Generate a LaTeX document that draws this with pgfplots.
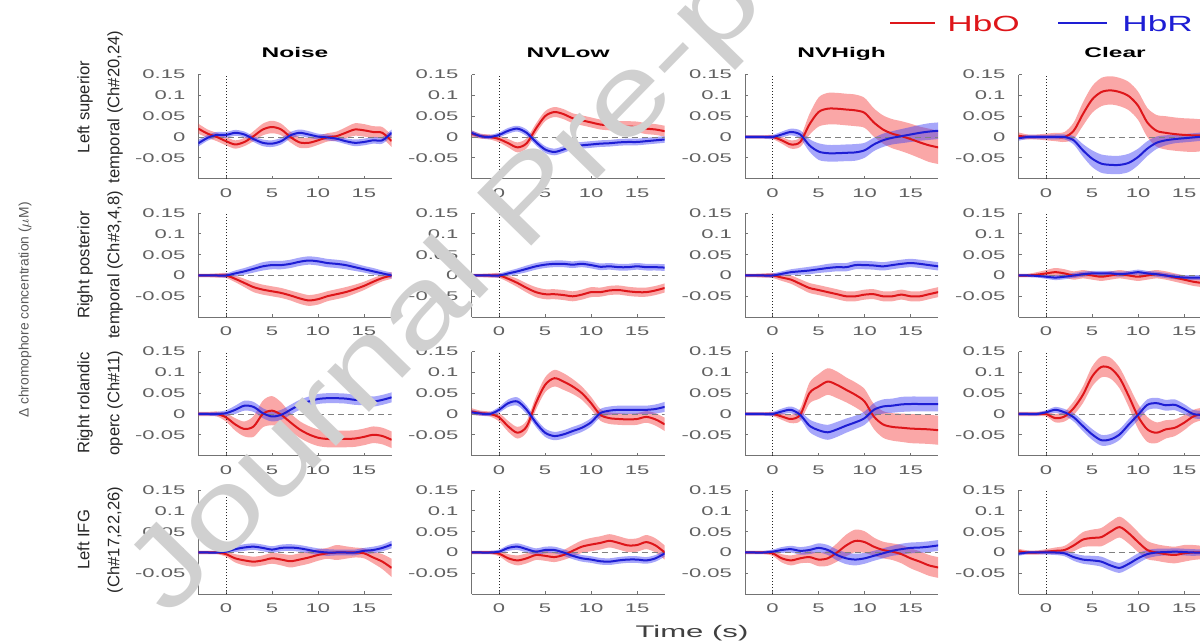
\documentclass[border=0pt]{standalone}
\usepackage{fontspec}
\setmainfont{Liberation Sans}
\newfontfamily\tickf[FakeStretch=1.75]{Liberation Sans}
\newfontfamily\legf[FakeStretch=1.6]{Liberation Sans}
\newfontfamily\timef[FakeStretch=1.85]{Liberation Sans}
\newfontfamily\wmf[FakeStretch=1.3]{Liberation Sans}
\usepackage{pgfplots}
\usepackage{pgfplotstable}
\usepgfplotslibrary{fillbetween}
\pgfplotsset{compat=1.18}

\definecolor{hbo}{RGB}{222,22,26}
\definecolor{hbr}{RGB}{30,30,212}
\definecolor{hbofill}{RGB}{245,60,60}
\definecolor{hbrfill}{RGB}{60,60,245}
\definecolor{wm}{RGB}{208,208,208}

% columns: t, HbO mean, HbO error, HbR mean, HbR error
% row 1: left superior temporal
\pgfplotstableread{
t o oe r re
-3 0.020 0.012 -0.015 0.008
-2 0.008 0.010 -0.002 0.007
-1 0.000 0.010 0.005 0.007
0 -0.010 0.010 0.005 0.007
1 -0.018 0.010 0.010 0.007
2 -0.012 0.010 0.006 0.007
3 0.002 0.012 -0.005 0.007
4 0.018 0.014 -0.014 0.008
5 0.024 0.015 -0.016 0.008
6 0.018 0.014 -0.010 0.008
7 0.000 0.013 0.004 0.008
8 -0.013 0.013 0.010 0.008
9 -0.014 0.012 0.006 0.008
10 -0.008 0.011 0.001 0.007
11 -0.001 0.010 -0.001 0.007
12 0.002 0.011 -0.004 0.007
13 0.010 0.013 -0.010 0.007
14 0.018 0.015 -0.014 0.008
15 0.016 0.015 -0.012 0.008
16 0.012 0.014 -0.008 0.008
17 0.010 0.014 -0.008 0.008
18 -0.010 0.014 0.010 0.008
}\tA
\pgfplotstableread{
t o oe r re
-3 0.008 0.008 0.010 0.006
-2 0.002 0.006 0.002 0.005
-1 0.000 0.006 0.000 0.005
0 -0.005 0.008 0.005 0.006
1 -0.015 0.010 0.015 0.007
2 -0.025 0.012 0.020 0.007
3 -0.015 0.012 0.010 0.008
4 0.020 0.012 -0.012 0.008
5 0.050 0.012 -0.030 0.008
6 0.060 0.012 -0.036 0.008
7 0.055 0.012 -0.030 0.008
8 0.045 0.012 -0.022 0.008
9 0.040 0.012 -0.020 0.008
10 0.035 0.012 -0.018 0.008
11 0.030 0.012 -0.016 0.008
12 0.028 0.012 -0.015 0.008
13 0.026 0.012 -0.013 0.008
14 0.025 0.013 -0.012 0.008
15 0.024 0.013 -0.012 0.008
16 0.020 0.013 -0.010 0.008
17 0.018 0.013 -0.008 0.008
18 0.014 0.013 -0.006 0.008
}\tB
\pgfplotstableread{
t o oe r re
-3 0.000 0.004 0.000 0.004
-2 0.000 0.004 0.000 0.004
-1 0.000 0.004 0.000 0.004
0 0.000 0.005 0.000 0.005
1 -0.008 0.008 0.006 0.007
2 -0.018 0.010 0.012 0.008
3 -0.012 0.012 0.006 0.010
4 0.030 0.025 -0.020 0.015
5 0.060 0.035 -0.035 0.020
6 0.068 0.038 -0.039 0.020
7 0.068 0.038 -0.039 0.020
8 0.066 0.038 -0.038 0.020
9 0.064 0.038 -0.037 0.020
10 0.058 0.036 -0.032 0.018
11 0.035 0.034 -0.018 0.016
12 0.018 0.034 -0.008 0.016
13 0.008 0.035 -0.002 0.016
14 0.002 0.036 0.002 0.017
15 -0.005 0.037 0.006 0.018
16 -0.013 0.038 0.010 0.019
17 -0.020 0.040 0.013 0.020
18 -0.025 0.040 0.015 0.020
}\tC
\pgfplotstableread{
t o oe r re
-3 0.003 0.008 -0.003 0.006
-2 0.000 0.006 0.000 0.005
-1 0.000 0.006 0.000 0.005
0 0.000 0.008 0.000 0.005
1 0.000 0.010 0.000 0.006
2 0.000 0.012 0.000 0.006
3 0.015 0.020 -0.008 0.010
4 0.055 0.028 -0.032 0.015
5 0.090 0.032 -0.052 0.020
6 0.108 0.034 -0.064 0.022
7 0.112 0.034 -0.067 0.022
8 0.108 0.034 -0.067 0.022
9 0.098 0.034 -0.062 0.022
10 0.075 0.034 -0.048 0.020
11 0.035 0.035 -0.028 0.018
12 0.015 0.038 -0.014 0.015
13 0.010 0.040 -0.008 0.012
14 0.007 0.040 -0.005 0.010
15 0.005 0.040 -0.003 0.010
16 0.004 0.040 -0.001 0.010
17 0.004 0.038 0.001 0.010
18 0.003 0.035 0.002 0.010
}\tD
% row 2: right posterior temporal
\pgfplotstableread{
t o oe r re
-3 0.000 0.004 0.000 0.004
-2 0.000 0.004 0.000 0.004
-1 0.000 0.005 0.000 0.004
0 0.000 0.006 0.000 0.005
1 -0.008 0.008 0.005 0.007
2 -0.018 0.010 0.010 0.008
3 -0.028 0.012 0.016 0.009
4 -0.034 0.012 0.022 0.010
5 -0.038 0.012 0.025 0.010
6 -0.042 0.012 0.025 0.010
7 -0.048 0.012 0.028 0.010
8 -0.055 0.013 0.033 0.010
9 -0.060 0.013 0.036 0.010
10 -0.057 0.013 0.034 0.010
11 -0.050 0.012 0.030 0.010
12 -0.045 0.012 0.028 0.010
13 -0.040 0.012 0.025 0.010
14 -0.033 0.011 0.020 0.009
15 -0.025 0.010 0.015 0.008
16 -0.015 0.009 0.010 0.008
17 -0.006 0.008 0.005 0.007
18 0.000 0.008 0.000 0.007
}\tE
\pgfplotstableread{
t o oe r re
-3 0.000 0.004 0.000 0.004
-2 0.000 0.004 0.000 0.004
-1 0.000 0.005 0.000 0.004
0 0.000 0.006 0.000 0.005
1 -0.008 0.008 0.005 0.006
2 -0.018 0.010 0.010 0.007
3 -0.030 0.011 0.016 0.008
4 -0.040 0.012 0.022 0.008
5 -0.045 0.012 0.026 0.008
6 -0.045 0.012 0.028 0.008
7 -0.047 0.012 0.028 0.008
8 -0.050 0.012 0.026 0.008
9 -0.046 0.012 0.028 0.008
10 -0.040 0.012 0.025 0.008
11 -0.040 0.011 0.021 0.008
12 -0.036 0.011 0.022 0.008
13 -0.035 0.011 0.020 0.008
14 -0.038 0.011 0.020 0.008
15 -0.040 0.011 0.022 0.008
16 -0.040 0.011 0.020 0.008
17 -0.036 0.011 0.020 0.008
18 -0.030 0.011 0.019 0.008
}\tF
\pgfplotstableread{
t o oe r re
-3 0.000 0.004 0.000 0.004
-2 0.000 0.004 0.000 0.004
-1 0.000 0.005 0.000 0.004
0 0.000 0.006 0.000 0.005
1 -0.005 0.008 0.004 0.006
2 -0.010 0.010 0.008 0.007
3 -0.020 0.011 0.010 0.008
4 -0.030 0.012 0.012 0.009
5 -0.035 0.012 0.015 0.009
6 -0.040 0.012 0.018 0.010
7 -0.045 0.012 0.020 0.010
8 -0.050 0.012 0.020 0.010
9 -0.050 0.012 0.025 0.010
10 -0.046 0.012 0.025 0.010
11 -0.045 0.012 0.024 0.010
12 -0.050 0.012 0.022 0.010
13 -0.050 0.012 0.025 0.010
14 -0.046 0.012 0.028 0.010
15 -0.050 0.012 0.030 0.010
16 -0.050 0.012 0.028 0.010
17 -0.045 0.012 0.025 0.010
18 -0.040 0.012 0.022 0.010
}\tG
\pgfplotstableread{
t o oe r re
-3 0.000 0.004 0.000 0.004
-2 0.000 0.004 0.000 0.004
-1 0.002 0.006 -0.001 0.004
0 0.005 0.008 -0.003 0.005
1 0.008 0.010 -0.005 0.006
2 0.005 0.010 -0.003 0.006
3 0.000 0.010 0.000 0.006
4 0.003 0.010 0.003 0.006
5 0.000 0.010 0.005 0.006
6 -0.003 0.010 0.005 0.006
7 0.000 0.010 0.005 0.006
8 0.003 0.010 0.003 0.006
9 0.000 0.010 0.005 0.006
10 -0.003 0.010 0.008 0.006
11 0.000 0.010 0.005 0.006
12 0.003 0.010 0.003 0.006
13 0.000 0.010 0.000 0.006
14 -0.005 0.010 -0.003 0.006
15 -0.010 0.010 -0.005 0.006
16 -0.015 0.010 -0.005 0.006
17 -0.018 0.010 -0.005 0.006
18 -0.020 0.010 -0.005 0.006
}\tH
% row 3: right rolandic operc
\pgfplotstableread{
t o oe r re
-3 0.000 0.005 0.000 0.004
-2 0.000 0.005 0.000 0.004
-1 0.000 0.006 0.000 0.005
0 -0.008 0.010 0.002 0.007
1 -0.025 0.015 0.010 0.010
2 -0.036 0.018 0.020 0.012
3 -0.030 0.025 0.017 0.012
4 0.000 0.032 0.002 0.012
5 0.008 0.035 -0.006 0.012
6 -0.002 0.030 -0.002 0.012
7 -0.020 0.022 0.010 0.012
8 -0.037 0.020 0.022 0.012
9 -0.049 0.020 0.030 0.012
10 -0.057 0.020 0.036 0.012
11 -0.060 0.020 0.038 0.012
12 -0.060 0.020 0.038 0.012
13 -0.060 0.020 0.037 0.012
14 -0.059 0.020 0.034 0.012
15 -0.055 0.020 0.033 0.012
16 -0.050 0.020 0.030 0.012
17 -0.053 0.020 0.034 0.012
18 -0.062 0.020 0.040 0.012
}\tI
\pgfplotstableread{
t o oe r re
-3 0.006 0.008 0.004 0.006
-2 0.002 0.006 0.001 0.005
-1 0.000 0.006 0.000 0.005
0 -0.008 0.010 0.010 0.007
1 -0.030 0.013 0.026 0.009
2 -0.045 0.014 0.030 0.010
3 -0.030 0.014 0.010 0.010
4 0.026 0.016 -0.021 0.010
5 0.070 0.018 -0.045 0.010
6 0.086 0.020 -0.053 0.010
7 0.078 0.020 -0.049 0.010
8 0.066 0.018 -0.041 0.010
9 0.050 0.016 -0.033 0.010
10 0.026 0.015 -0.020 0.010
11 -0.002 0.014 0.002 0.010
12 -0.010 0.014 0.008 0.010
13 -0.012 0.014 0.010 0.010
14 -0.013 0.014 0.010 0.010
15 -0.012 0.014 0.010 0.010
16 -0.007 0.014 0.010 0.010
17 -0.013 0.015 0.012 0.011
18 -0.025 0.016 0.017 0.012
}\tJ
\pgfplotstableread{
t o oe r re
-3 0.000 0.004 0.000 0.004
-2 0.000 0.004 0.000 0.004
-1 0.000 0.004 0.000 0.004
0 0.000 0.005 0.000 0.005
1 -0.006 0.008 0.006 0.007
2 -0.012 0.010 0.010 0.008
3 -0.002 0.015 -0.002 0.010
4 0.050 0.025 -0.028 0.015
5 0.066 0.030 -0.039 0.017
6 0.078 0.032 -0.044 0.018
7 0.070 0.032 -0.037 0.018
8 0.058 0.030 -0.028 0.017
9 0.046 0.030 -0.020 0.016
10 0.030 0.030 -0.010 0.016
11 -0.006 0.030 0.010 0.016
12 -0.025 0.032 0.018 0.017
13 -0.031 0.033 0.020 0.017
14 -0.033 0.034 0.023 0.018
15 -0.035 0.035 0.024 0.018
16 -0.036 0.035 0.024 0.018
17 -0.037 0.035 0.024 0.018
18 -0.039 0.035 0.024 0.018
}\tK
\pgfplotstableread{
t o oe r re
-3 0.000 0.005 0.000 0.004
-2 0.000 0.005 0.000 0.004
-1 0.000 0.005 0.000 0.004
0 0.000 0.006 0.004 0.005
1 -0.010 0.010 0.010 0.007
2 -0.006 0.012 0.004 0.008
3 0.014 0.016 -0.008 0.010
4 0.046 0.020 -0.029 0.012
5 0.090 0.024 -0.049 0.013
6 0.113 0.025 -0.063 0.013
7 0.110 0.025 -0.061 0.013
8 0.086 0.025 -0.049 0.013
9 0.042 0.026 -0.025 0.013
10 -0.006 0.030 -0.002 0.013
11 -0.037 0.030 0.022 0.013
12 -0.045 0.025 0.026 0.013
13 -0.037 0.022 0.021 0.013
14 -0.033 0.020 0.022 0.013
15 -0.021 0.018 0.012 0.012
16 -0.006 0.016 0.000 0.010
17 0.000 0.015 -0.002 0.010
18 0.000 0.015 0.000 0.010
}\tL
% row 4: left IFG
\pgfplotstableread{
t o oe r re
-3 0.000 0.004 0.000 0.004
-2 0.000 0.004 0.000 0.004
-1 0.000 0.004 0.000 0.004
0 -0.004 0.006 0.002 0.005
1 -0.014 0.010 0.008 0.007
2 -0.019 0.012 0.012 0.008
3 -0.022 0.012 0.014 0.008
4 -0.019 0.012 0.011 0.008
5 -0.014 0.013 0.007 0.008
6 -0.017 0.014 0.011 0.008
7 -0.021 0.015 0.012 0.008
8 -0.017 0.015 0.010 0.008
9 -0.012 0.015 0.006 0.008
10 -0.006 0.014 0.002 0.008
11 -0.002 0.013 0.000 0.008
12 0.000 0.018 0.000 0.007
13 0.000 0.015 0.000 0.007
14 0.000 0.012 0.000 0.007
15 -0.002 0.012 0.004 0.007
16 -0.012 0.014 0.006 0.008
17 -0.022 0.018 0.011 0.008
18 -0.037 0.022 0.019 0.009
}\tM
\pgfplotstableread{
t o oe r re
-3 0.000 0.004 0.000 0.004
-2 0.000 0.004 0.000 0.004
-1 0.000 0.004 0.000 0.004
0 -0.003 0.006 0.002 0.005
1 -0.014 0.010 0.011 0.007
2 -0.019 0.012 0.014 0.008
3 -0.014 0.012 0.008 0.008
4 -0.006 0.012 0.002 0.008
5 -0.008 0.012 0.006 0.008
6 -0.011 0.012 0.006 0.008
7 -0.006 0.012 0.000 0.008
8 0.004 0.014 -0.008 0.008
9 0.014 0.015 -0.014 0.008
10 0.019 0.016 -0.017 0.008
11 0.023 0.016 -0.021 0.008
12 0.028 0.016 -0.022 0.008
13 0.023 0.016 -0.019 0.008
14 0.017 0.016 -0.017 0.008
15 0.018 0.016 -0.017 0.008
16 0.025 0.017 -0.019 0.008
17 0.017 0.017 -0.014 0.008
18 0.000 0.017 -0.002 0.008
}\tN
\pgfplotstableread{
t o oe r re
-3 0.000 0.004 0.000 0.004
-2 0.000 0.004 0.000 0.004
-1 0.000 0.004 0.000 0.004
0 -0.002 0.006 0.002 0.005
1 -0.014 0.010 0.006 0.007
2 -0.019 0.012 0.008 0.008
3 -0.014 0.012 0.004 0.009
4 -0.011 0.014 0.006 0.010
5 -0.017 0.016 0.011 0.011
6 -0.014 0.018 0.006 0.012
7 0.000 0.022 -0.006 0.013
8 0.017 0.026 -0.014 0.014
9 0.028 0.027 -0.017 0.014
10 0.025 0.026 -0.014 0.013
11 0.014 0.022 -0.008 0.012
12 0.006 0.020 -0.002 0.012
13 0.002 0.020 0.004 0.012
14 -0.004 0.022 0.008 0.013
15 -0.014 0.024 0.011 0.013
16 -0.022 0.025 0.012 0.013
17 -0.031 0.025 0.014 0.013
18 -0.036 0.025 0.017 0.013
}\tO
\pgfplotstableread{
t o oe r re
-3 0.003 0.006 -0.003 0.005
-2 0.000 0.005 0.000 0.004
-1 0.000 0.005 0.000 0.004
0 0.002 0.006 0.000 0.005
1 0.004 0.008 0.000 0.006
2 0.006 0.010 -0.002 0.007
3 0.017 0.014 -0.011 0.009
4 0.031 0.018 -0.017 0.010
5 0.035 0.020 -0.019 0.011
6 0.037 0.022 -0.022 0.012
7 0.050 0.024 -0.031 0.012
8 0.061 0.025 -0.037 0.012
9 0.046 0.025 -0.027 0.012
10 0.025 0.024 -0.014 0.012
11 0.006 0.022 -0.004 0.010
12 0.000 0.020 0.000 0.009
13 -0.004 0.020 0.001 0.008
14 -0.006 0.020 0.002 0.008
15 -0.002 0.020 0.001 0.008
16 0.000 0.018 0.000 0.008
17 0.000 0.016 0.000 0.007
18 0.000 0.015 0.000 0.007
}\tP

\pgfplotsset{
  panel/.style={
    anchor=south west, scale only axis,
    width=96.6pt, height=52pt,
    xmin=-3, xmax=18, ymin=-0.1, ymax=0.15,
    axis x line*=bottom, axis y line*=left,
    axis line style={-, black!55, line width=0.5pt},
    xtick={0,5,10,15}, xticklabels={0,5,10,15},
    ytick={-0.05,0,0.05,0.1,0.15},
    yticklabels={-0.05,0,0.05,0.1,0.15},
    tick align=inside, major tick length=1.5pt,
    tick style={black!55, line width=0.4pt},
    ticklabel style={font=\tickf\fontsize{6.3}{7}\selectfont, text=black!62},
    xticklabel style={yshift=-1.5pt},
    yticklabel style={xshift=-3pt},
    title style={font=\tickf\bfseries\fontsize{7}{8}\selectfont,
      at={(0.5,1)}, anchor=base, yshift=2.6pt},
  }
}

% #1 x, #2 y of lower left corner, #3 table, #4 extra axis options
\newcommand{\panel}[4]{%
  \begin{axis}[panel, at={(#1,#2)}, #4]
    \addplot[black!50, densely dashed, line width=0.4pt] coordinates {(-3,0) (18,0)};
    \addplot[black!85, densely dotted, line width=0.5pt] coordinates {(0,-0.1) (0,0.15)};
    \addplot[name path=ou, draw=none, smooth] table[x=t, y expr=\thisrow{o}+\thisrow{oe}] {#3};
    \addplot[name path=ol, draw=none, smooth] table[x=t, y expr=\thisrow{o}-\thisrow{oe}] {#3};
    \addplot[name path=ru, draw=none, smooth] table[x=t, y expr=\thisrow{r}+\thisrow{re}] {#3};
    \addplot[name path=rl, draw=none, smooth] table[x=t, y expr=\thisrow{r}-\thisrow{re}] {#3};
    \addplot[hbofill, fill opacity=0.45, draw=none] fill between[of=ou and ol];
    \addplot[hbrfill, fill opacity=0.45, draw=none] fill between[of=ru and rl];
    \addplot[hbo, line width=1pt, smooth] table[x=t, y=o] {#3};
    \addplot[hbr, line width=1pt, smooth] table[x=t, y=r] {#3};
  \end{axis}}

\begin{document}
\begin{tikzpicture}

% row 1
\panel{99.2pt}{231.2pt}{\tA}{title=Noise}
\panel{235.75pt}{231.2pt}{\tB}{title=NVLow}
\panel{372.5pt}{231.2pt}{\tC}{title=NVHigh}
\panel{509.25pt}{231.2pt}{\tD}{title=Clear}
% row 2
\panel{99.2pt}{161.95pt}{\tE}{}
\panel{235.75pt}{161.95pt}{\tF}{}
\panel{372.5pt}{161.95pt}{\tG}{}
\panel{509.25pt}{161.95pt}{\tH}{}
% row 3
\panel{99.2pt}{92.7pt}{\tI}{}
\panel{235.75pt}{92.7pt}{\tJ}{}
\panel{372.5pt}{92.7pt}{\tK}{}
\panel{509.25pt}{92.7pt}{\tL}{}
% row 4
\panel{99.2pt}{23.45pt}{\tM}{}
\panel{235.75pt}{23.45pt}{\tN}{}
\panel{372.5pt}{23.45pt}{\tO}{}
\panel{509.25pt}{23.45pt}{\tP}{}

% row labels
\tikzset{rowlab/.style={rotate=90, align=center, text=black!85,
  font=\fontsize{8.3}{15}\selectfont}}
\node[rowlab] at (50pt,267pt) {Left superior\\temporal (Ch\#20,24)};
\node[rowlab] at (50pt,188pt) {Right posterior\\temporal (Ch\#3,4,8)};
\node[rowlab] at (50pt,119pt) {Right rolandic\\operc (Ch\#11)};
\node[rowlab] at (50pt,50.5pt) {Left IFG\\(Ch\#17,22,26)};

\node[rotate=90, text=black!65, font=\fontsize{6.9}{8}\selectfont]
  at (12.5pt,165.5pt) {Δ chromophore concentration ($\mu$M)};

\node[anchor=base, font=\timef\fontsize{8.4}{10}\selectfont, text=black!75]
  at (346pt,1.8pt) {Time (s)};

% legend
\draw[hbo, line width=1.2pt] (445pt,309pt) -- (467.5pt,309pt);
\node[anchor=base west, inner sep=0pt, text=hbo, font=\legf\fontsize{11}{12}\selectfont]
  at (473.5pt,304.5pt) {HbO};
\draw[hbr, line width=1.2pt] (529pt,309pt) -- (553.5pt,309pt);
\node[anchor=base west, inner sep=0pt, text=hbr, font=\legf\fontsize{11}{12}\selectfont]
  at (561pt,304.5pt) {HbR};

% watermark
\node[anchor=base west, inner sep=0pt, rotate=45.7, text=wm,
  font=\wmf\fontsize{55}{55}\selectfont] at (84pt,11pt) {Journal Pre-proof};

\pgfresetboundingbox
\path[use as bounding box] (0,0) rectangle (600pt,320.5pt);
\end{tikzpicture}
\end{document}
